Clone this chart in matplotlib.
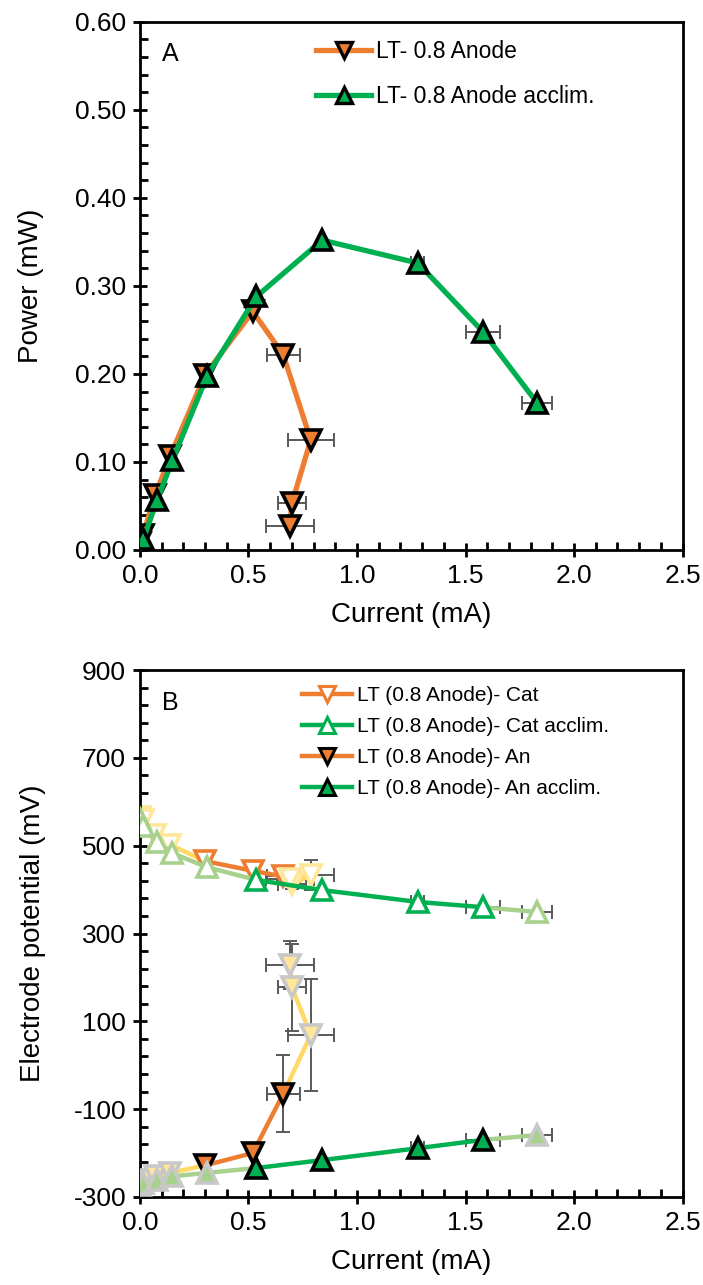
import matplotlib
matplotlib.use('Agg')
import matplotlib.pyplot as plt
import numpy as np
from matplotlib.lines import Line2D
from matplotlib.ticker import MultipleLocator, FixedLocator, FormatStrFormatter

plt.rcParams['font.family'] = ['Liberation Sans', 'DejaVu Sans']

# currents (mA)
cur_lt = [0.0, 0.014, 0.07, 0.14, 0.30, 0.52, 0.66, 0.787, 0.70, 0.69]
xerr_lt = [0, 0, 0, 0, 0, 0, 0.076, 0.106, 0.065, 0.11]
cur_acc = [0.0, 0.015, 0.08, 0.15, 0.31, 0.537, 0.84, 1.28, 1.58, 1.83]
xerr_acc = [0, 0, 0, 0, 0, 0, 0, 0.03, 0.08, 0.07]

# panel A: power (mW)
pow_lt = [0.008, 0.017, 0.062, 0.107, 0.199, 0.271, 0.222, 0.125, 0.053, 0.027]
pow_acc = [0.0, 0.012, 0.057, 0.102, 0.198, 0.288, 0.352, 0.326, 0.248, 0.167]

# panel B: electrode potential (mV)
cat_lt = [565, 558, 524, 502, 465, 443, 430, 433, 412, 425]
cat_lt_err = [0, 0, 0, 0, 0, 0, 10, 34, 10, 15]
an_lt = [-268, -262, -252, -245, -228, -200, -65, 69, 178, 228]
an_lt_err = [0, 0, 0, 0, 0, 0, 88, 127, 99, 55]
cat_acc = [560, 545, 508, 483, 451, 422, 399, 372, 360, 349]
an_acc = [-273, -268, -262, -253, -245, -234, -216, -189, -170, -159]

ORANGE = '#ED7D31'
GREEN = '#00B050'
LGREEN = '#A9D18E'
YELLOW = '#FFD966'
LYELLOW = '#FFE699'
GRAY = '#C8C8C8'
ERR = '#595959'

# per-point / per-segment colour codes: 0 = faded, 1 = full
pt_lt = [0, 0, 0, 0, 1, 1, 1, 0, 0, 0]
seg_lt = [0, 0, 0, 0, 1, 1, 0, 0, 0]
pt_acc = [0, 0, 0, 0, 0, 1, 1, 1, 1, 0]
seg_acc = [0, 0, 0, 0, 0, 1, 1, 1, 0]


def draw_series(ax, x, y, xerr, yerr, seg, pts, line_cols, face_cols, edge_cols,
                marker, lw, ms, z):
    ax.errorbar(x, y, xerr=xerr, yerr=yerr, fmt='none', ecolor=ERR,
                elinewidth=1.4, capsize=5, capthick=1.4, zorder=z)
    for i in range(len(x) - 1):
        ax.plot(x[i:i + 2], y[i:i + 2], color=line_cols[seg[i]], lw=lw,
                solid_capstyle='round', zorder=z + 0.1)
    for i in range(len(x)):
        ax.plot(x[i], y[i], marker=marker, ms=ms, mew=2.6, ls='none',
                mfc=face_cols[pts[i]], mec=edge_cols[pts[i]], zorder=z + 0.2)


def style_axes(ax):
    ax.set_xlim(0, 2.5)
    ax.xaxis.set_major_locator(MultipleLocator(0.5))
    ax.xaxis.set_minor_locator(MultipleLocator(0.1))
    ax.xaxis.set_major_formatter(FormatStrFormatter('%.1f'))
    ax.tick_params(which='major', direction='inout', length=10, width=2,
                   labelsize=19, pad=5)
    ax.tick_params(which='minor', direction='in', length=6, width=2)
    for s in ax.spines.values():
        s.set_linewidth(2)
    ax.set_xlabel('Current (mA)', fontsize=20, labelpad=10)


fig = plt.figure(figsize=(7.03, 12.85), dpi=100)

# ---- panel A
axA = fig.add_axes([0.199, 0.572, 0.772, 0.411])
draw_series(axA, cur_lt, pow_lt, xerr_lt, None, [1] * 9, [1] * 10,
            [ORANGE, ORANGE], [ORANGE, ORANGE], ['black', 'black'], 'v', 3.8, 14, 2)
draw_series(axA, cur_acc, pow_acc, xerr_acc, None, [1] * 9, [1] * 10,
            [GREEN, GREEN], [GREEN, GREEN], ['black', 'black'], '^', 3.8, 14, 3)
axA.set_ylim(0, 0.6)
axA.yaxis.set_major_locator(MultipleLocator(0.1))
axA.yaxis.set_minor_locator(MultipleLocator(0.02))
axA.yaxis.set_major_formatter(FormatStrFormatter('%.2f'))
style_axes(axA)
axA.set_ylabel('Power (mW)', fontsize=20, labelpad=22)
axA.text(0.04, 0.925, 'A', transform=axA.transAxes, fontsize=18)
hA = [Line2D([], [], color=ORANGE, lw=3.8, marker='v', ms=12, mfc=ORANGE, mec='black', mew=2.4),
      Line2D([], [], color=GREEN, lw=3.8, marker='^', ms=12, mfc=GREEN, mec='black', mew=2.4)]
axA.legend(hA, ['LT- 0.8 Anode', 'LT- 0.8 Anode acclim.'], loc='upper left',
           bbox_to_anchor=(0.287, 1.005), frameon=False, fontsize=16.5,
           handlelength=2.4, handletextpad=0.2, labelspacing=0.95)

# ---- panel B
axB = fig.add_axes([0.199, 0.0685, 0.772, 0.410])
draw_series(axB, cur_lt, cat_lt, xerr_lt, cat_lt_err, seg_lt, pt_lt,
            [YELLOW, ORANGE], ['white', 'white'], [LYELLOW, ORANGE], 'v', 3.2, 14, 2)
draw_series(axB, cur_acc, cat_acc, xerr_acc, None, seg_acc, pt_acc,
            [LGREEN, GREEN], ['white', 'white'], [LGREEN, GREEN], '^', 3.2, 14, 3)
draw_series(axB, cur_lt, an_lt, xerr_lt, an_lt_err, seg_lt, pt_lt,
            [YELLOW, ORANGE], [LYELLOW, ORANGE], [GRAY, 'black'], 'v', 3.2, 14, 4)
draw_series(axB, cur_acc, an_acc, xerr_acc, None, seg_acc, pt_acc,
            [LGREEN, GREEN], [LGREEN, GREEN], [GRAY, 'black'], '^', 3.2, 14, 5)
axB.set_ylim(-300, 900)
axB.yaxis.set_major_locator(FixedLocator(np.arange(-300, 901, 200)))
axB.yaxis.set_minor_locator(FixedLocator(np.arange(-300, 901, 40)))
axB.yaxis.set_major_formatter(FormatStrFormatter('%d'))
style_axes(axB)
axB.set_ylabel('Electrode potential (mV)', fontsize=20, labelpad=20)
axB.text(0.04, 0.925, 'B', transform=axB.transAxes, fontsize=18)
hB = [Line2D([], [], color=ORANGE, lw=3.2, marker='v', ms=11, mfc='white', mec=ORANGE, mew=2.2),
      Line2D([], [], color=GREEN, lw=3.2, marker='^', ms=11, mfc='white', mec=GREEN, mew=2.2),
      Line2D([], [], color=ORANGE, lw=3.2, marker='v', ms=11, mfc=ORANGE, mec='black', mew=2.2),
      Line2D([], [], color=GREEN, lw=3.2, marker='^', ms=11, mfc=GREEN, mec='black', mew=2.2)]
axB.legend(hB, ['LT (0.8 Anode)- Cat', 'LT (0.8 Anode)- Cat acclim.',
                'LT (0.8 Anode)- An', 'LT (0.8 Anode)- An acclim.'],
           loc='upper left', bbox_to_anchor=(0.265, 1.005), frameon=False, fontsize=15,
           handlelength=2.4, handletextpad=0.2, labelspacing=0.58)

fig.savefig('out.png', dpi=100)
